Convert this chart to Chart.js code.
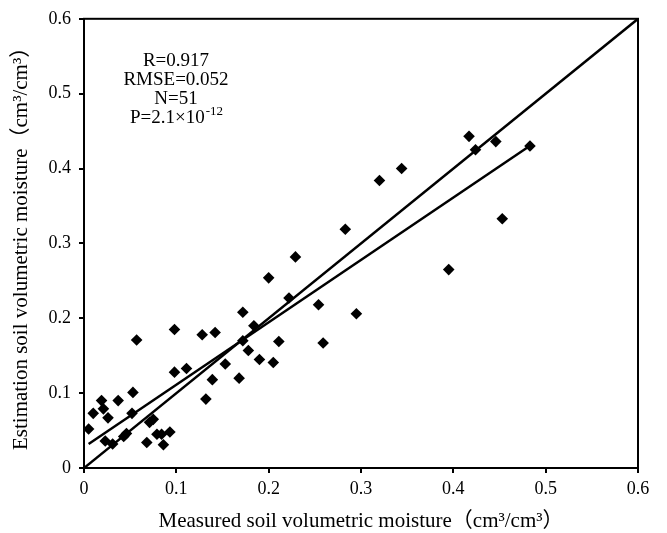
<!DOCTYPE html>
<html>
<head>
<meta charset="utf-8">
<script src="https://cdn.jsdelivr.net/npm/chart.js@4/dist/chart.umd.min.js"></script>
<style>
  html, body { margin: 0; padding: 0; background: #fff; }
  #wrap { width: 667px; height: 533px; }
</style>
</head>
<body>
<div id="wrap"><canvas id="chart"></canvas></div>
<script>
// Measured vs estimated soil moisture (cm3/cm3).
const measured = [
  0.005, 0.010, 0.019, 0.021, 0.026, 0.023, 0.031, 0.037, 0.043, 0.046,
  0.053, 0.052, 0.057, 0.068, 0.071, 0.075, 0.079, 0.084, 0.086, 0.093,
  0.098, 0.098, 0.111, 0.128, 0.132, 0.139, 0.142, 0.153, 0.168, 0.172,
  0.172, 0.178, 0.184, 0.190, 0.205, 0.211, 0.320, 0.283, 0.229, 0.200,
  0.222, 0.254, 0.295, 0.259, 0.344, 0.417, 0.424, 0.446, 0.483, 0.453,
  0.395
];
const estimated = [
  0.052, 0.073, 0.090, 0.079, 0.067, 0.036, 0.032, 0.090, 0.042, 0.046,
  0.101, 0.073, 0.171, 0.034, 0.061, 0.065, 0.045, 0.045, 0.031, 0.048,
  0.185, 0.128, 0.133, 0.178, 0.092, 0.118, 0.181, 0.139, 0.120, 0.208,
  0.170, 0.157, 0.190, 0.145, 0.141, 0.169, 0.384, 0.319, 0.282, 0.254,
  0.227, 0.218, 0.206, 0.167, 0.400, 0.443, 0.425, 0.436, 0.430, 0.333,
  0.265
];

// Fitted line as drawn in the figure.
const fitSlope = 0.833;
const fitIntercept = 0.028;

const xTicks = [0, 0.1, 0.2, 0.3, 0.4, 0.5, 0.6];
const yTicks = [0, 0.1, 0.2, 0.3, 0.4, 0.5, 0.6];

const statLines = ["R=0.917", "RMSE=0.052", "N=51"];

const SERIF = "'Liberation Serif', 'Times New Roman', 'Noto Sans CJK SC', serif";

const points = measured.map((m, i) => ({ x: m, y: estimated[i] }));
const xMin = Math.min(...measured);
const xMax = Math.max(...measured);
const fitLine = [
  { x: xMin, y: fitIntercept + fitSlope * xMin },
  { x: xMax, y: fitIntercept + fitSlope * xMax },
];
const oneToOne = [
  { x: xTicks[0], y: yTicks[0] },
  { x: xTicks[xTicks.length - 1], y: yTicks[yTicks.length - 1] },
];

// Box around the plot area plus the statistics text.
const frameAndStats = {
  id: "frameAndStats",
  afterDraw(chart) {
    const { ctx, chartArea } = chart;
    ctx.save();
    ctx.strokeStyle = "#000";
    ctx.lineWidth = 2;
    ctx.strokeRect(chartArea.left, chartArea.top,
      chartArea.right - chartArea.left, chartArea.bottom - chartArea.top);

    ctx.fillStyle = "#000";
    ctx.textAlign = "center";
    ctx.textBaseline = "middle";
    ctx.font = "19px " + SERIF;
    const cx = 176;
    let y = 61;
    statLines.forEach((t) => {
      ctx.fillText(t, cx, y);
      y += 19;
    });
    // P line with a superscript exponent
    const base = "P=2.1\u00d710";
    const exp = "-12";
    const wBase = ctx.measureText(base).width;
    ctx.font = "13px " + SERIF;
    const wExp = ctx.measureText(exp).width;
    const start = cx - (wBase + wExp) / 2;
    ctx.textAlign = "left";
    ctx.font = "19px " + SERIF;
    ctx.fillText(base, start, y);
    ctx.font = "13px " + SERIF;
    ctx.fillText(exp, start + wBase + 1, y - 6);
    ctx.restore();
  },
};

new Chart(document.getElementById("chart"), {
  type: "scatter",
  data: {
    datasets: [
      {
        label: "Samples",
        data: points,
        pointStyle: "rectRot",
        radius: 5.8,
        backgroundColor: "#000",
        borderColor: "#000",
        borderWidth: 0,
        order: 0,
      },
      {
        label: "Fit",
        type: "line",
        data: fitLine,
        borderColor: "#000",
        borderWidth: 2.5,
        pointRadius: 0,
        fill: false,
        order: 1,
      },
      {
        label: "1:1",
        type: "line",
        data: oneToOne,
        borderColor: "#000",
        borderWidth: 2.5,
        pointRadius: 0,
        fill: false,
        order: 2,
      },
    ],
  },
  options: {
    responsive: true,
    maintainAspectRatio: false,
    animation: false,
    layout: { padding: { top: 17, right: 29, left: 0, bottom: 0 } },
    plugins: {
      legend: { display: false },
      tooltip: { enabled: false },
    },
    scales: {
      x: {
        type: "linear",
        min: 0,
        max: 0.6,
        afterBuildTicks: (axis) => { axis.ticks = xTicks.map((v) => ({ value: v })); },
        afterFit: (axis) => { axis.height = 65; },
        border: { display: true, color: "#000", width: 2 },
        grid: { display: true, drawOnChartArea: false, drawTicks: true, tickLength: 5, color: "#000", lineWidth: 2 },
        ticks: {
          color: "#000",
          padding: 5,
          font: { family: SERIF, size: 18 },
          callback: (v) => String(v),
        },
        title: {
          display: true,
          text: "Measured soil volumetric moisture\uff08cm\u00b3/cm\u00b3\uff09",
          color: "#000",
          font: { family: SERIF, size: 21 },
          padding: { top: 0, bottom: -1 },
        },
      },
      y: {
        type: "linear",
        min: 0,
        max: 0.6,
        afterBuildTicks: (axis) => { axis.ticks = yTicks.map((v) => ({ value: v })); },
        afterFit: (axis) => { axis.width = 84; },
        border: { display: true, color: "#000", width: 2 },
        grid: { display: true, drawOnChartArea: false, drawTicks: true, tickLength: 5, color: "#000", lineWidth: 2 },
        ticks: {
          color: "#000",
          padding: 8,
          font: { family: SERIF, size: 18 },
          callback: (v) => String(v),
        },
        title: {
          display: true,
          text: "Estimation soil volumetric moisture\uff08cm\u00b3/cm\u00b3\uff09",
          color: "#000",
          font: { family: SERIF, size: 21 },
          padding: { top: 9, bottom: 0 },
        },
      },
    },
  },
  plugins: [frameAndStats],
});
</script>
</body>
</html>
